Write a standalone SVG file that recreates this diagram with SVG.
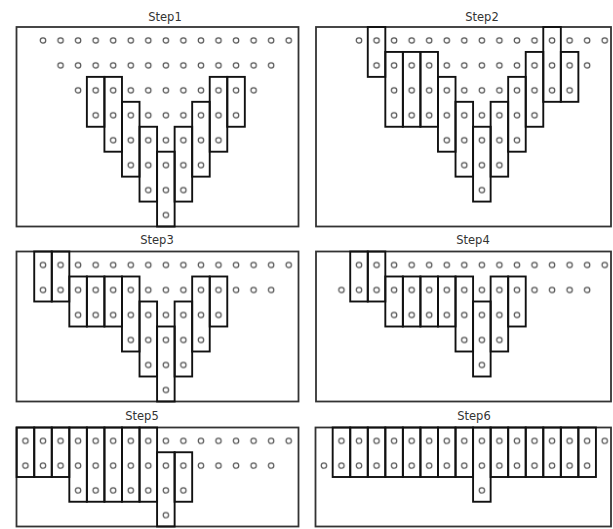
<svg xmlns="http://www.w3.org/2000/svg" width="613" height="529" viewBox="0 0 613 529">
<style>
.bg{fill:#fff}
.frame{fill:none;stroke:#333;stroke-width:1.8}
.t{fill:none;stroke:#111;stroke-width:1.9}
.lbl{font-family:"DejaVu Sans",sans-serif;font-size:11.5px;fill:#333;text-anchor:middle}
.h{fill:#fff;stroke:#555;stroke-width:1.2}
</style>
<defs>
<pattern id="pa" patternUnits="userSpaceOnUse" x="0" y="0" width="17.55" height="24.94"><circle class="h" cx="8.775" cy="13.47" r="2.7"/></pattern>
<pattern id="pb" patternUnits="userSpaceOnUse" x="0" y="0" width="17.55" height="25"><circle class="h" cx="8.775" cy="13.5" r="2.7"/></pattern>
<pattern id="pc" patternUnits="userSpaceOnUse" x="0" y="0" width="17.55" height="24.75"><circle class="h" cx="8.775" cy="13.4" r="2.7"/></pattern>
</defs>
<rect class="bg" x="0" y="0" width="613" height="529"/>

<g id="step1">
<text class="lbl" x="165" y="21">Step1</text>
<rect class="frame" x="16.5" y="27" width="282" height="199.5"/>
<g transform="translate(34.225,27)">
<g fill="url(#pa)">
<rect x="0" y="0" width="263.25" height="24.94"/>
<rect x="17.55" y="24.94" width="228.15" height="24.94"/>
<rect x="35.1" y="49.88" width="193.05" height="24.94"/>
<rect x="52.65" y="74.82" width="157.95" height="24.94"/>
<rect x="70.2" y="99.76" width="122.85" height="24.94"/>
<rect x="87.75" y="124.7" width="87.75" height="24.94"/>
<rect x="105.3" y="149.64" width="52.65" height="24.94"/>
<rect x="122.85" y="174.58" width="17.55" height="24.94"/>
</g>
<rect class="t" x="52.65" y="49.88" width="17.55" height="49.88"/>
<rect class="t" x="70.2" y="49.88" width="17.55" height="74.82"/>
<rect class="t" x="87.75" y="74.82" width="17.55" height="74.82"/>
<rect class="t" x="105.3" y="99.76" width="17.55" height="74.82"/>
<rect class="t" x="122.85" y="124.7" width="17.55" height="74.82"/>
<rect class="t" x="140.4" y="99.76" width="17.55" height="74.82"/>
<rect class="t" x="157.95" y="74.82" width="17.55" height="74.82"/>
<rect class="t" x="175.5" y="49.88" width="17.55" height="74.82"/>
<rect class="t" x="193.05" y="49.88" width="17.55" height="49.88"/>
</g>
</g>

<g id="step2">
<text class="lbl" x="482" y="21">Step2</text>
<rect class="frame" x="316" y="27" width="295" height="199.5"/>
<g transform="translate(350.225,27)">
<g fill="url(#pa)">
<rect x="0" y="0" width="263.25" height="24.94"/>
<rect x="17.55" y="24.94" width="228.15" height="24.94"/>
<rect x="35.1" y="49.88" width="193.05" height="24.94"/>
<rect x="35.1" y="74.82" width="157.95" height="24.94"/>
<rect x="87.75" y="99.76" width="87.75" height="24.94"/>
<rect x="105.3" y="124.7" width="52.65" height="24.94"/>
<rect x="122.85" y="149.64" width="17.55" height="24.94"/>
</g>
<rect class="t" x="17.55" y="0" width="17.55" height="49.88"/>
<rect class="t" x="35.1" y="24.94" width="17.55" height="74.82"/>
<rect class="t" x="52.65" y="24.94" width="17.55" height="74.82"/>
<rect class="t" x="70.2" y="24.94" width="17.55" height="74.82"/>
<rect class="t" x="87.75" y="49.88" width="17.55" height="74.82"/>
<rect class="t" x="105.3" y="74.82" width="17.55" height="74.82"/>
<rect class="t" x="122.85" y="99.76" width="17.55" height="74.82"/>
<rect class="t" x="140.4" y="74.82" width="17.55" height="74.82"/>
<rect class="t" x="157.95" y="49.88" width="17.55" height="74.82"/>
<rect class="t" x="175.5" y="24.94" width="17.55" height="74.82"/>
<rect class="t" x="193.05" y="0" width="17.55" height="74.82"/>
<rect class="t" x="210.6" y="24.94" width="17.55" height="49.88"/>
</g>
</g>

<g id="step3">
<text class="lbl" x="157" y="244">Step3</text>
<rect class="frame" x="16.5" y="251.5" width="282" height="150"/>
<g transform="translate(34.225,251.5)">
<g fill="url(#pb)">
<rect x="0" y="0" width="263.25" height="25"/>
<rect x="0" y="25" width="245.7" height="25"/>
<rect x="35.1" y="50" width="157.95" height="25"/>
<rect x="87.75" y="75" width="87.75" height="25"/>
<rect x="105.3" y="100" width="52.65" height="25"/>
<rect x="122.85" y="125" width="17.55" height="25"/>
</g>
<rect class="t" x="0" y="0" width="17.55" height="50"/>
<rect class="t" x="17.55" y="0" width="17.55" height="50"/>
<rect class="t" x="35.1" y="25" width="17.55" height="50"/>
<rect class="t" x="52.65" y="25" width="17.55" height="50"/>
<rect class="t" x="70.2" y="25" width="17.55" height="50"/>
<rect class="t" x="87.75" y="25" width="17.55" height="75"/>
<rect class="t" x="105.3" y="50" width="17.55" height="75"/>
<rect class="t" x="122.85" y="75" width="17.55" height="75"/>
<rect class="t" x="140.4" y="50" width="17.55" height="75"/>
<rect class="t" x="157.95" y="25" width="17.55" height="75"/>
<rect class="t" x="175.5" y="25" width="17.55" height="50"/>
</g>
</g>

<g id="step4">
<text class="lbl" x="473" y="244">Step4</text>
<rect class="frame" x="316" y="251.5" width="295" height="150"/>
<g transform="translate(350.225,251.5)">
<g fill="url(#pb)">
<rect x="0" y="0" width="263.25" height="25"/>
<rect x="-17.55" y="25" width="263.25" height="25"/>
<rect x="35.1" y="50" width="140.4" height="25"/>
<rect x="105.3" y="75" width="52.65" height="25"/>
<rect x="122.85" y="100" width="17.55" height="25"/>
</g>
<rect class="t" x="0" y="0" width="17.55" height="50"/>
<rect class="t" x="17.55" y="0" width="17.55" height="50"/>
<rect class="t" x="35.1" y="25" width="17.55" height="50"/>
<rect class="t" x="52.65" y="25" width="17.55" height="50"/>
<rect class="t" x="70.2" y="25" width="17.55" height="50"/>
<rect class="t" x="87.75" y="25" width="17.55" height="50"/>
<rect class="t" x="105.3" y="25" width="17.55" height="75"/>
<rect class="t" x="122.85" y="50" width="17.55" height="75"/>
<rect class="t" x="140.4" y="25" width="17.55" height="75"/>
<rect class="t" x="157.95" y="25" width="17.55" height="50"/>
</g>
</g>

<g id="step5">
<text class="lbl" x="142" y="420">Step5</text>
<rect class="frame" x="16.5" y="427.5" width="282" height="99"/>
<g transform="translate(34.225,427.5)">
<g fill="url(#pc)">
<rect x="-17.55" y="0" width="280.8" height="24.75"/>
<rect x="-17.55" y="24.75" width="263.25" height="24.75"/>
<rect x="35.1" y="49.5" width="122.85" height="24.75"/>
<rect x="122.85" y="74.25" width="17.55" height="24.75"/>
</g>
<rect class="t" x="-17.55" y="0" width="17.55" height="49.5"/>
<rect class="t" x="0" y="0" width="17.55" height="49.5"/>
<rect class="t" x="17.55" y="0" width="17.55" height="49.5"/>
<rect class="t" x="35.1" y="0" width="17.55" height="74.25"/>
<rect class="t" x="52.65" y="0" width="17.55" height="74.25"/>
<rect class="t" x="70.2" y="0" width="17.55" height="74.25"/>
<rect class="t" x="87.75" y="0" width="17.55" height="74.25"/>
<rect class="t" x="105.3" y="0" width="17.55" height="74.25"/>
<rect class="t" x="122.85" y="24.75" width="17.55" height="74.25"/>
<rect class="t" x="140.4" y="24.75" width="17.55" height="49.5"/>
</g>
</g>

<g id="step6">
<text class="lbl" x="474" y="420">Step6</text>
<rect class="frame" x="315.5" y="427.5" width="295.5" height="99"/>
<g transform="translate(350.225,427.5)">
<g fill="url(#pc)">
<rect x="-17.55" y="0" width="280.8" height="24.75"/>
<rect x="-35.1" y="24.75" width="280.8" height="24.75"/>
<rect x="122.85" y="49.5" width="17.55" height="24.75"/>
</g>
<rect class="t" x="-17.55" y="0" width="17.55" height="49.5"/>
<rect class="t" x="0" y="0" width="17.55" height="49.5"/>
<rect class="t" x="17.55" y="0" width="17.55" height="49.5"/>
<rect class="t" x="35.1" y="0" width="17.55" height="49.5"/>
<rect class="t" x="52.65" y="0" width="17.55" height="49.5"/>
<rect class="t" x="70.2" y="0" width="17.55" height="49.5"/>
<rect class="t" x="87.75" y="0" width="17.55" height="49.5"/>
<rect class="t" x="105.3" y="0" width="17.55" height="49.5"/>
<rect class="t" x="122.85" y="0" width="17.55" height="74.25"/>
<rect class="t" x="140.4" y="0" width="17.55" height="49.5"/>
<rect class="t" x="157.95" y="0" width="17.55" height="49.5"/>
<rect class="t" x="175.5" y="0" width="17.55" height="49.5"/>
<rect class="t" x="193.05" y="0" width="17.55" height="49.5"/>
<rect class="t" x="210.6" y="0" width="17.55" height="49.5"/>
<rect class="t" x="228.15" y="0" width="17.55" height="49.5"/>
</g>
</g>
</svg>
